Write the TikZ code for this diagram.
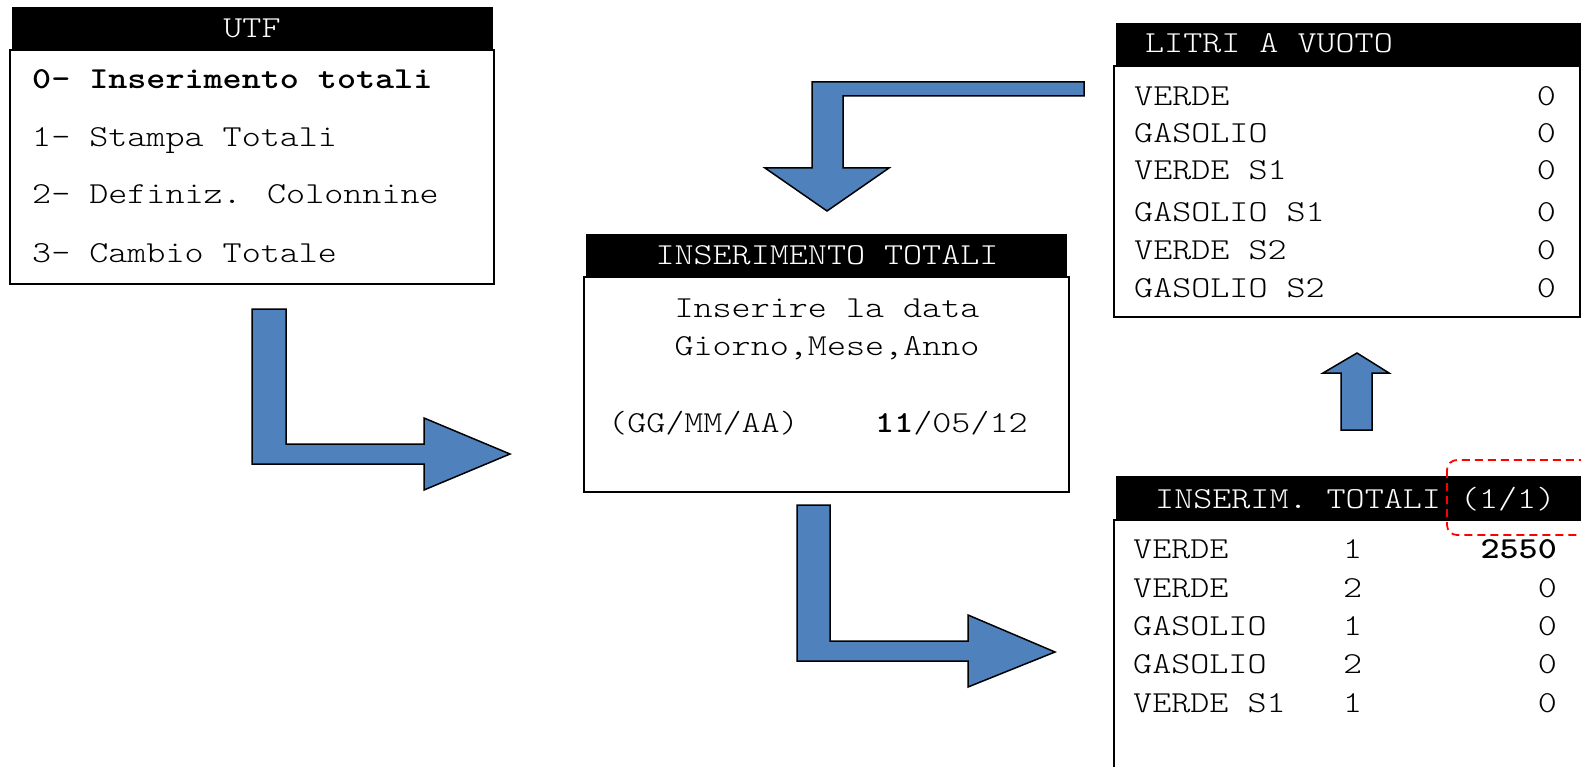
\documentclass[tikz,border=0pt]{standalone}
\usepackage{fontspec}
\newfontfamily\lcdfam{lmmonolt10-regular.otf}[FakeStretch=1.19, BoldFont=lmmonolt10-bold.otf]
\definecolor{arrowblue}{RGB}{79,129,189}
\newcommand\lcdfont{\lcdfam\fontsize{30.5}{37}\selectfont}
\tikzset{
  hdr/.style={fill=black, inner sep=0pt, outer sep=0pt, anchor=north west},
  panel/.style={draw=black, line width=1.6pt, fill=white, inner sep=0pt, outer sep=0pt, anchor=north west},
  txt/.style={inner sep=0pt, anchor=base west, font=\lcdfont},
  val/.style={inner sep=0pt, anchor=base east, font=\lcdfont},
  ctxt/.style={inner sep=0pt, anchor=base, font=\lcdfont},
  htxt/.style={inner sep=0pt, anchor=base, text=white, font=\lcdfont},
  barrow/.style={fill=arrowblue, draw=black, line width=1.5pt, line join=miter},
  hilite/.style={draw=red, dash pattern=on 8pt off 5pt, line width=1.8pt, rounded corners=10pt}
}
\begin{document}
\begin{tikzpicture}[x=1pt, y=-1pt]
\useasboundingbox (0,0) rectangle (1581,767);
\clip (0,0) rectangle (1581,767);
\fill[white] (0,0) rectangle (1581,767);

% ---- Box 1: UTF menu
\node[panel, minimum width=484pt, minimum height=234pt] (b1) at (10,50) {};
\node[hdr, minimum width=481pt, minimum height=43pt] (h1) at (12,7) {};
\node[htxt] (h1t) at (252,38) {UTF};
\node[txt] (m0) at (32,89) {\textbf{0- Inserimento totali}};
\node[txt] (m1) at (32,147) {1- Stampa Totali};
\node[txt] (m2) at (32,204) {2- Definiz. Colonnine};
\node[txt] (m3) at (32,262) {3- Cambio Totale};

% ---- Box 2: INSERIMENTO TOTALI
\node[panel, minimum width=485pt, minimum height=215pt] (b2) at (584,277) {};
\node[hdr, minimum width=481pt, minimum height=43pt] (h2) at (586,234) {};
\node[htxt] (h2t) at (827,265) {INSERIMENTO TOTALI};
\node[ctxt] (d1) at (827,317) {Inserire la data};
\node[ctxt] (d2) at (827,355) {Giorno,Mese,Anno};
\node[txt] (d3) at (608,432) {(GG/MM/AA)};
\node[txt] (d4) at (875,432) {\textbf{11}/05/12};

% ---- Box 3: LITRI A VUOTO
\node[panel, minimum width=466pt, minimum height=251pt] (b3) at (1114,66) {};
\node[hdr, minimum width=472pt, minimum height=43pt] (h3) at (1116,23) {};
\node[htxt] (h3t) at (1269,53) {LITRI A VUOTO};
\node[txt] (l1) at (1134,106) {VERDE};      \node[val] (v1) at (1556,106) {0};
\node[txt] (l2) at (1134,143) {GASOLIO};    \node[val] (v2) at (1556,143) {0};
\node[txt] (l3) at (1134,180) {VERDE S1};   \node[val] (v3) at (1556,180) {0};
\node[txt] (l4) at (1134,222) {GASOLIO S1}; \node[val] (v4) at (1556,222) {0};
\node[txt] (l5) at (1134,259) {VERDE S2};   \node[val] (v5) at (1556,259) {0};
\node[txt] (l6) at (1134,297) {GASOLIO S2}; \node[val] (v6) at (1556,297) {0};

% ---- Box 4: INSERIM. TOTALI (1/1)
\node[panel, minimum width=490pt, minimum height=270pt] (b4) at (1114,520) {};
\node[hdr, minimum width=472pt, minimum height=44pt] (h4) at (1116,476) {};
\node[txt, text=white] (h4t) at (1155,508) {INSERIM. TOTALI (1/1)};
\node[txt] (r1) at (1133,558) {VERDE};    \node[txt] (n1) at (1343,558) {1}; \node[val] (w1) at (1557,558) {\textbf{2550}};
\node[txt] (r2) at (1133,597) {VERDE};    \node[txt] (n2) at (1343,597) {2}; \node[val] (w2) at (1557,597) {0};
\node[txt] (r3) at (1133,635) {GASOLIO};  \node[txt] (n3) at (1343,635) {1}; \node[val] (w3) at (1557,635) {0};
\node[txt] (r4) at (1133,673) {GASOLIO};  \node[txt] (n4) at (1343,673) {2}; \node[val] (w4) at (1557,673) {0};
\node[txt] (r5) at (1133,712) {VERDE S1}; \node[txt] (n5) at (1343,712) {1}; \node[val] (w5) at (1557,712) {0};

% ---- red dashed highlight around (1/1)
\draw[hilite] (1447,460) rectangle (1590,535);

% ---- block arrows
% Box1 -> Box2
\draw[barrow] (252,309) -- (286,309) -- (286,444) -- (424,444) -- (424,418)
  -- (510,454) -- (424,490) -- (424,464) -- (252,464) -- cycle;
% Box2 -> Box4
\draw[barrow] (797,505) -- (830,505) -- (830,641) -- (968,641) -- (968,615)
  -- (1055,652) -- (968,687) -- (968,661) -- (797,661) -- cycle;
% Box3 -> Box2
\draw[barrow] (1084,82) -- (1084,96) -- (843,96) -- (843,168) -- (889,168)
  -- (827,211) -- (765,168) -- (812,168) -- (812,82) -- cycle;
% Box4 -> Box3
\draw[barrow] (1341,430) -- (1372,430) -- (1372,373) -- (1389,373)
  -- (1357,353) -- (1323,373) -- (1341,373) -- cycle;
\end{tikzpicture}
\end{document}
